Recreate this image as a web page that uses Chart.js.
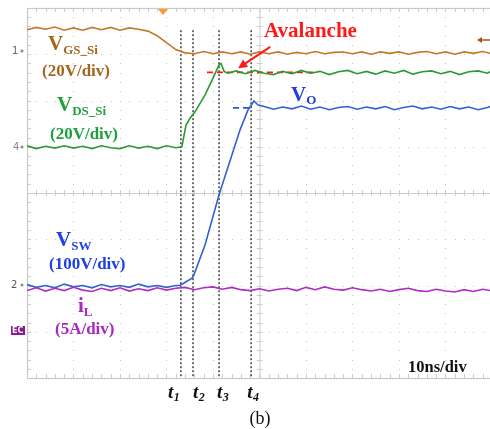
<!DOCTYPE html>
<html>
<head>
<meta charset="utf-8">
<script src="https://cdn.jsdelivr.net/npm/chart.js@4.4.1/dist/chart.umd.min.js"></script>
<style>
  html, body { margin: 0; padding: 0; background: #ffffff; overflow: hidden; }
  #wrap { width: 490px; height: 429px; position: relative; }
</style>
</head>
<body>
<div id="wrap"><canvas id="c" width="490" height="429"></canvas></div>
<script>
// Time in ns (10 ns/div), vertical values in screen divisions (centre = 0)
const vgsT = [0,2,4,6,8,10,12,14,16,18,20,22,24,26,28,30,32,34,36,38,40,42,44,46,48,50,52,54,56,58,60,62,64,66,68,70,72,74,76,78,80,82,84,86,88,90,92,94,96,98,99.6];
const vgsV = [3.53,3.58,3.54,3.59,3.52,3.57,3.52,3.58,3.53,3.58,3.52,3.57,3.54,3.50,3.40,3.25,3.10,3.03,3.01,3.06,3.01,3.05,3.01,3.05,3.00,3.05,3.01,3.05,3.00,3.04,3.01,3.06,3.01,3.04,3.05,3.01,3.05,3.00,3.05,3.02,3.05,3.00,3.04,3.06,3.01,3.05,3.00,3.05,3.02,3.06,3.02];

const vdsT = [0,2,4,6,8,10,12,14,16,18,20,22,24,26,28,30,32,33.3,34.2,35.1,36.1,38.3,39.8,41.3,41.7,42.4,43.2,45,47,49,51,53,55,57,59,61,63,65,67,69,71,73,75,77,79,81,83,85,87,89,91,93,95,97,99,99.6];
const vdsV = [1.02,0.96,1.01,0.97,1.02,0.97,1.01,0.96,1.02,0.98,0.96,1.02,0.97,1.01,0.96,1.02,0.98,1.00,1.47,1.62,1.75,2.12,2.44,2.77,2.80,2.63,2.59,2.64,2.58,2.65,2.59,2.56,2.63,2.58,2.65,2.59,2.63,2.56,2.62,2.65,2.58,2.63,2.57,2.64,2.59,2.65,2.57,2.62,2.64,2.58,2.63,2.56,2.62,2.64,2.59,2.62];

const vswT = [0,2,4,6,8,10,12,14,16,18,20,22,24,26,28,30,32,32.9,34.2,35.5,35.9,38.3,41.3,43.7,45.8,47.5,48.8,49.7,51,53,55,57,59,61,63,65,67,69,71,73,75,77,79,81,83,85,87,89,91,93,95,97,99,99.6];
const vswV = [-1.98,-2.04,-2.00,-2.05,-1.97,-2.03,-2.00,-2.05,-1.98,-2.03,-2.00,-2.04,-1.97,-2.03,-2.00,-2.04,-2.00,-2.00,-1.92,-1.84,-1.77,-1.12,-0.04,0.71,1.36,1.79,1.99,1.90,1.87,1.81,1.86,1.82,1.88,1.81,1.86,1.80,1.85,1.87,1.81,1.86,1.82,1.87,1.80,1.85,1.88,1.82,1.86,1.81,1.87,1.82,1.86,1.80,1.85,1.87];

const ilT = [0,2,4,6,8,10,12,14,16,18,20,22,24,26,28,30,32,34,36,38,40,42,44,46,48,50,52,54,56,58,60,62,64,66,68,70,72,74,76,78,80,82,84,86,88,90,92,94,96,98,99.6];
const ilV = [-2.11,-2.05,-2.12,-2.06,-2.11,-2.04,-2.10,-2.13,-2.06,-2.11,-2.05,-2.12,-2.07,-2.11,-2.05,-2.10,-2.06,-2.04,-2.09,-2.05,-2.03,-2.08,-2.04,-2.09,-2.11,-2.07,-2.12,-2.08,-2.06,-2.11,-2.04,-2.09,-2.03,-2.08,-2.10,-2.05,-2.09,-2.12,-2.08,-2.13,-2.09,-2.06,-2.11,-2.13,-2.08,-2.12,-2.14,-2.09,-2.13,-2.08,-2.11];

// cursor instants t1..t4 (ns) and their labels
const cursorT = [33.1, 35.7, 41.3, 48.2];
const cursorLabels = ['1','2','3','4'];
const cursorTop = 3.52, cursorBottom = -4;

// reference levels
const avalancheLevel = 2.61, avalancheFrom = 38.7, avalancheTo = 61.5;
const voLevel = 1.84, voFrom = 44.3, voTo = 48.6;
const arrowFrom = [52.3, 3.16], arrowTo = [45.4, 2.70];

const xMin = 0, xMax = 99.57, yMin = -4, yMax = 4;

function pts(t, v) { return t.map((x, i) => ({x: x, y: v[i]})); }

const C = {
  vgs: '#c4782a', vgsText: '#a4661c',
  vds: '#2c9a30', vdsText: '#1fa03c',
  vsw: '#3262d0', vswText: '#2040e0',
  il: '#b02cc4', ilText: '#a828c0',
  red: '#ff1a1a'
};

const datasets = [
  {data: pts(ilT, ilV), borderColor: C.il},
  {data: pts(vgsT, vgsV), borderColor: C.vgs},
  {data: pts(vdsT, vdsV), borderColor: C.vds},
  {data: pts(vswT, vswV), borderColor: C.vsw},
  {data: [{x: avalancheFrom, y: avalancheLevel}, {x: avalancheTo, y: avalancheLevel}], borderColor: C.red, borderDash: [6,4], borderWidth: 1.8},
  {data: [{x: voFrom, y: voLevel}, {x: voTo, y: voLevel}], borderColor: '#2a55e0', borderDash: [6,4], borderWidth: 1.8}
];
cursorT.forEach(t => datasets.push({data: [{x: t, y: cursorTop}, {x: t, y: cursorBottom}], borderColor: '#222', borderDash: [2,2], borderWidth: 1.3}));
datasets.forEach(d => { if (d.borderWidth === undefined) d.borderWidth = 1.6; d.pointRadius = 0; d.fill = false; d.tension = 0; });

const scopeGrid = {
  id: 'scopeGrid',
  beforeDatasetsDraw(chart) {
    const {ctx, scales: {x, y}} = chart;
    const divX = 10, divY = 1;
    ctx.save();
    const L = x.getPixelForValue(0), R = x.getPixelForValue(100);
    const T = y.getPixelForValue(4), B = y.getPixelForValue(-4);
    ctx.fillStyle = '#c4c4c4';
    for (let i = 1; i < 10; i++) {
      if (i === 5) continue;
      const px = x.getPixelForValue(i * divX);
      for (let k = 0; k <= 40; k++) {
        const py = y.getPixelForValue(-4 + k * 0.2);
        ctx.fillRect(Math.round(px), Math.round(py), 1, 1);
      }
    }
    for (let j = -3; j <= 3; j++) {
      if (j === 0) continue;
      const py = y.getPixelForValue(j * divY);
      for (let k = 0; k <= 50; k++) {
        const px = x.getPixelForValue(k * 2);
        ctx.fillRect(Math.round(px), Math.round(py), 1, 1);
      }
    }
    ctx.strokeStyle = '#c8c8c8';
    ctx.lineWidth = 1.2;
    ctx.strokeRect(L + 0.5, T + 0.5, R - L, B - T);
    const cx = x.getPixelForValue(50), cy = y.getPixelForValue(0);
    ctx.strokeStyle = '#cccccc';
    ctx.lineWidth = 1;
    ctx.beginPath();
    ctx.moveTo(L, cy + 0.5); ctx.lineTo(R, cy + 0.5);
    ctx.moveTo(cx + 0.5, T); ctx.lineTo(cx + 0.5, B);
    ctx.stroke();
    ctx.beginPath();
    for (let k = 0; k <= 50; k++) {
      const px = Math.round(x.getPixelForValue(k * 2)) + 0.5;
      ctx.moveTo(px, cy - 3); ctx.lineTo(px, cy + 3);
      ctx.moveTo(px, T); ctx.lineTo(px, T + 4);
      ctx.moveTo(px, B); ctx.lineTo(px, B - 4);
    }
    for (let k = 0; k <= 40; k++) {
      const py = Math.round(y.getPixelForValue(-4 + k * 0.2)) + 0.5;
      ctx.moveTo(cx - 3, py); ctx.lineTo(cx + 3, py);
      ctx.moveTo(L, py); ctx.lineTo(L + 4, py);
    }
    ctx.stroke();
    ctx.restore();
  },
  afterDatasetsDraw(chart) {
    const {ctx, scales: {x, y}} = chart;
    ctx.save();
    const ax0 = x.getPixelForValue(arrowFrom[0]), ay0 = y.getPixelForValue(arrowFrom[1]);
    const ax1 = x.getPixelForValue(arrowTo[0]), ay1 = y.getPixelForValue(arrowTo[1]);
    ctx.strokeStyle = C.red; ctx.fillStyle = C.red; ctx.lineWidth = 2;
    const ang = Math.atan2(ay1 - ay0, ax1 - ax0);
    ctx.beginPath();
    ctx.moveTo(ax0, ay0);
    ctx.lineTo(ax1 - 6 * Math.cos(ang), ay1 - 6 * Math.sin(ang));
    ctx.stroke();
    ctx.beginPath();
    ctx.moveTo(ax1, ay1);
    ctx.lineTo(ax1 - 9 * Math.cos(ang) + 4.5 * Math.sin(ang), ay1 - 9 * Math.sin(ang) - 4.5 * Math.cos(ang));
    ctx.lineTo(ax1 - 9 * Math.cos(ang) - 4.5 * Math.sin(ang), ay1 - 9 * Math.sin(ang) + 4.5 * Math.cos(ang));
    ctx.closePath(); ctx.fill();

    const serif = '"Liberation Serif", "Times New Roman", serif';
    function sub(xp, base, main, s, color, ms, ss, drop) {
      ctx.fillStyle = color;
      ctx.textBaseline = 'alphabetic';
      ctx.textAlign = 'left';
      ctx.font = 'bold ' + ms + 'px ' + serif;
      ctx.fillText(main, xp, base);
      const w = ctx.measureText(main).width;
      ctx.font = 'bold ' + ss + 'px ' + serif;
      ctx.fillText(s, xp + w, base + drop);
    }
    function txt(str, xp, yp, color, size, style, align) {
      ctx.fillStyle = color;
      ctx.textBaseline = 'middle';
      ctx.textAlign = align || 'left';
      ctx.font = (style || 'bold') + ' ' + size + 'px ' + serif;
      ctx.fillText(str, xp, yp);
    }
    sub(48, 50, 'V', 'GS_Si', C.vgsText, 21, 13, 4);
    txt('(20V/div)', 42, 72, C.vgsText, 17);
    sub(57, 111, 'V', 'DS_Si', C.vdsText, 21, 13, 4);
    txt('(20V/div)', 50, 135, C.vdsText, 17);
    sub(56, 246, 'V', 'SW', C.vswText, 21, 13, 4);
    txt('(100V/div)', 49, 265, C.vswText, 17);
    sub(78, 312, 'i', 'L', C.ilText, 21, 13, 4);
    txt('(5A/div)', 55, 330, C.ilText, 17);
    sub(291, 101, 'V', 'O', '#2040e0', 21, 13, 3);
    txt('Avalanche', 264, 32, C.red, 21);
    txt('10ns/div', 408, 368, '#111', 16.5);
    txt('(b)', 260, 419, '#111', 18, 'normal', 'center');

    const labelShift = [-13, 0, -2, -4];
    cursorT.forEach((t, i) => {
      const px = x.getPixelForValue(t);
      ctx.fillStyle = '#111';
      ctx.textBaseline = 'alphabetic'; ctx.textAlign = 'left';
      ctx.font = 'italic bold 19px ' + serif;
      const w1 = ctx.measureText('t').width;
      const x0 = px + labelShift[i];
      ctx.fillText('t', x0, 398);
      ctx.font = 'italic bold 12px ' + serif;
      ctx.fillText(cursorLabels[i], x0 + w1 + 0.5, 401);
    });

    ctx.font = '10px "DejaVu Sans", sans-serif';
    ctx.textBaseline = 'middle'; ctx.textAlign = 'left';
    ctx.fillStyle = '#666'; ctx.fillText('1', 12, 51);
    ctx.fillStyle = '#888'; ctx.fillText('4', 13, 147);
    ctx.fillStyle = '#556'; ctx.fillText('2', 11, 285);
    ctx.fillStyle = '#888';
    [[22,51],[22,147],[22,285]].forEach(p => { ctx.beginPath(); ctx.arc(p[0], p[1], 1.5, 0, 7); ctx.fill(); });
    ctx.fillStyle = '#8a1a90'; ctx.fillRect(11, 326, 14, 9);
    ctx.fillStyle = '#fff'; ctx.font = 'bold 8px "DejaVu Sans", sans-serif'; ctx.fillText('EC', 12, 331);
    ctx.fillStyle = '#ff9a2a';
    ctx.beginPath(); ctx.moveTo(158, 9); ctx.lineTo(168, 9); ctx.lineTo(163, 15); ctx.closePath(); ctx.fill();
    ctx.strokeStyle = '#a8561c'; ctx.fillStyle = '#a8561c'; ctx.lineWidth = 1.5;
    ctx.beginPath(); ctx.moveTo(481, 40); ctx.lineTo(490, 40); ctx.stroke();
    ctx.beginPath(); ctx.moveTo(477, 40); ctx.lineTo(482, 37); ctx.lineTo(482, 43); ctx.closePath(); ctx.fill();
    ctx.restore();
  }
};

new Chart(document.getElementById('c'), {
  type: 'line',
  data: {datasets: datasets},
  options: {
    responsive: false,
    animation: false,
    events: [],
    layout: {padding: {left: 27, top: 8, right: 0, bottom: 51}},
    plugins: {legend: {display: false}, tooltip: {enabled: false}},
    scales: {
      x: {type: 'linear', min: xMin, max: xMax, display: false},
      y: {type: 'linear', min: yMin, max: yMax, display: false}
    }
  },
  plugins: [scopeGrid]
});
</script>
</body>
</html>
